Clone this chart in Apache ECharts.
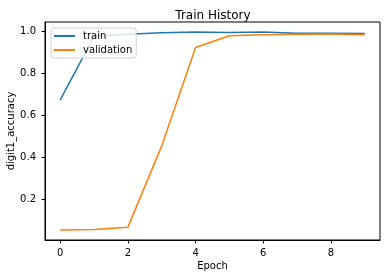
<!DOCTYPE html>
<html>
<head>
<meta charset="utf-8">
<script src="https://cdn.jsdelivr.net/npm/echarts@6/dist/echarts.min.js"></script>
<style>html,body{margin:0;padding:0;background:#fff;}#c{width:386px;height:278px;}</style>
</head>
<body>
<div id="c"></div>
<script>
var epochs = [0, 1, 2, 3, 4, 5, 6, 7, 8, 9];
var train = [0.673, 0.975, 0.985, 0.992, 0.996, 0.993, 0.995, 0.989, 0.989, 0.988];
var validation = [0.055, 0.058, 0.069, 0.455, 0.922, 0.978, 0.982, 0.985, 0.986, 0.982];
var xTicks = [0, 2, 4, 6, 8];
var yTicks = [0.2, 0.4, 0.6, 0.8, 1.0];

var font = 'DejaVu Sans';
var chart = echarts.init(document.getElementById('c'), null, {renderer: 'canvas'});
function pairs(ys) { return epochs.map(function (x, i) { return [x, ys[i]]; }); }
chart.setOption({
  animation: false,
  backgroundColor: '#fff',
  title: {
    text: 'Train History', left: 208, top: 5, textAlign: 'center',
    textStyle: {fontFamily: font, fontSize: 12, fontWeight: 'normal', color: '#000'}
  },
  legend: {
    orient: 'vertical', left: 51, top: 28,
    icon: 'rect', itemWidth: 21, itemHeight: 2, itemGap: 4,
    padding: [3, 4, 3, 3],
    backgroundColor: 'rgba(255,255,255,0.8)', borderColor: '#d0d0d0', borderWidth: 1, borderRadius: 3,
    textStyle: {fontFamily: font, fontSize: 10, color: '#000', padding: [0, 0, 0, 3]},
    data: ['train', 'validation']
  },
  grid: {left: 45, top: 22, right: 6, bottom: 38, outerBoundsMode: 'none', containLabel: false,
    show: true, borderColor: '#000', borderWidth: 1, backgroundColor: 'transparent'},
  xAxis: {
    type: 'value', min: -0.45, max: 9.45,
    name: 'Epoch', nameLocation: 'middle', nameGap: 21, nameMoveOverlap: false,
    nameTextStyle: {fontFamily: font, fontSize: 10, color: '#000'},
    axisLine: {show: true, onZero: false, lineStyle: {color: '#000', width: 1}},
    axisTick: {show: true, customValues: xTicks, length: 3.5, lineStyle: {color: '#000'}},
    axisLabel: {customValues: xTicks, margin: 8, fontFamily: font, fontSize: 10, color: '#000'},
    splitLine: {show: false}
  },
  yAxis: {
    type: 'value', min: 0.008, max: 1.043,
    name: 'digit1_accuracy', nameLocation: 'middle', nameGap: 29, nameRotate: 90, nameMoveOverlap: false,
    nameTextStyle: {fontFamily: font, fontSize: 10, color: '#000'},
    axisLine: {show: true, onZero: false, lineStyle: {color: '#000', width: 1}},
    axisTick: {show: true, customValues: yTicks, length: 3.5, lineStyle: {color: '#000'}},
    axisLabel: {customValues: yTicks, margin: 9, fontFamily: font, fontSize: 10, color: '#000',
      formatter: function (v) { return v.toFixed(1); }},
    splitLine: {show: false}
  },
  series: [
    {name: 'train', type: 'line', data: pairs(train), symbol: 'none', color: '#1f77b4',
      lineStyle: {width: 1.5, color: '#1f77b4'}},
    {name: 'validation', type: 'line', data: pairs(validation), symbol: 'none', color: '#ff7f0e',
      lineStyle: {width: 1.5, color: '#ff7f0e'}}
  ]
});
</script>
</body>
</html>
